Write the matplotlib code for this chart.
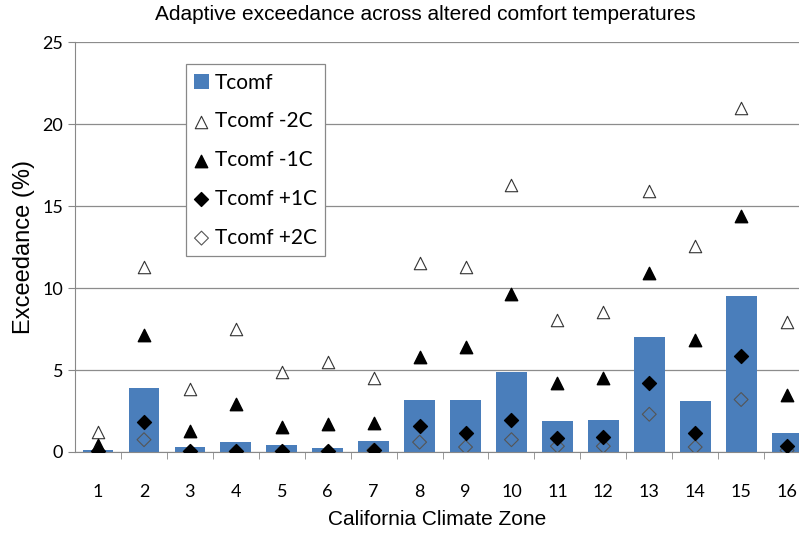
import numpy as np
import matplotlib
matplotlib.use("Agg")
import matplotlib.pyplot as plt

zones = list(range(1, 17))
tcomf = [0.1, 3.9, 0.3, 0.6, 0.4, 0.25, 0.65, 3.15, 3.2, 4.9, 1.9, 1.95, 7.0, 3.1, 9.5, 1.15]
tcomf_m2 = [1.2, 11.3, 3.85, 7.5, 4.9, 5.5, 4.5, 11.5, 11.3, 16.3, 8.05, 8.55, 15.9, 12.55, 21.0, 7.9]
tcomf_m1 = [0.45, 7.15, 1.3, 2.95, 1.55, 1.7, 1.75, 5.8, 6.4, 9.65, 4.2, 4.5, 10.9, 6.8, 14.4, 3.45]
tcomf_p1 = [0.05, 1.85, 0.05, 0.05, 0.05, 0.05, 0.15, 1.6, 1.15, 1.95, 0.85, 0.9, 4.2, 1.15, 5.85, 0.35]
tcomf_p2 = [0.0, 0.75, 0.0, 0.0, 0.0, 0.0, 0.1, 0.6, 0.3, 0.75, 0.35, 0.35, 2.3, 0.3, 3.2, 0.1]

plt.rcParams['font.family'] = ['Lato', 'DejaVu Sans']
label_font = ['Liberation Sans', 'DejaVu Sans']

fig = plt.figure(figsize=(7.99, 5.33), dpi=100)
ax = fig.add_axes([0.094, 0.152, 0.906, 0.769])

bars = ax.bar(zones, tcomf, width=0.67, color='#4a7ebb', label='Tcomf', zorder=2)
m2 = ax.scatter(zones, tcomf_m2, marker='^', s=80, facecolor='white', edgecolor='#333333',
                linewidth=0.8, label='Tcomf -2C', zorder=3)
m1 = ax.scatter(zones, tcomf_m1, marker='^', s=80, color='black', label='Tcomf -1C', zorder=3)
p1 = ax.scatter(zones, tcomf_p1, marker='D', s=50, color='black', label='Tcomf +1C', zorder=4)
p2 = ax.scatter(zones, tcomf_p2, marker='D', s=50, facecolor='none', edgecolor='#555555',
                linewidth=0.8, label='Tcomf +2C', zorder=3)

ax.set_ylim(0, 25)
ax.set_xlim(0.5, 16.26)
ax.set_yticks([0, 5, 10, 15, 20, 25])
ax.set_xticks(zones)
ax.set_xticks(np.arange(1.5, 16.5, 1), minor=True)
ax.tick_params(axis='x', which='major', length=0, labelsize=13, pad=23)
ax.tick_params(axis='x', which='minor', length=5, color='#888888')
ax.tick_params(axis='y', length=5, color='#888888', labelsize=13)
ax.grid(axis='y', color='#8c8c8c', linewidth=0.9, zorder=0)

for side in ['top', 'right']:
    ax.spines[side].set_visible(False)
for side in ['left', 'bottom']:
    ax.spines[side].set_color('#888888')

ax.set_xlabel('California Climate Zone', fontsize=15, labelpad=7, family=label_font)
ax.set_ylabel('Exceedance (%)', fontsize=17, labelpad=5, family=label_font)
fig.suptitle('Adaptive exceedance across altered comfort temperatures',
             fontsize=15, y=0.99, x=0.532, family=label_font)

leg = ax.legend(handles=[bars, m2, m1, p1, p2], loc='upper left',
                bbox_to_anchor=(0.153, 0.946), borderaxespad=0, fontsize=15,
                labelspacing=0.9, handlelength=0.7, handletextpad=0.3,
                borderpad=0.4, fancybox=False, framealpha=1, edgecolor='#888888')
leg.get_frame().set_linewidth(0.9)

fig.savefig('out.png', dpi=100)
